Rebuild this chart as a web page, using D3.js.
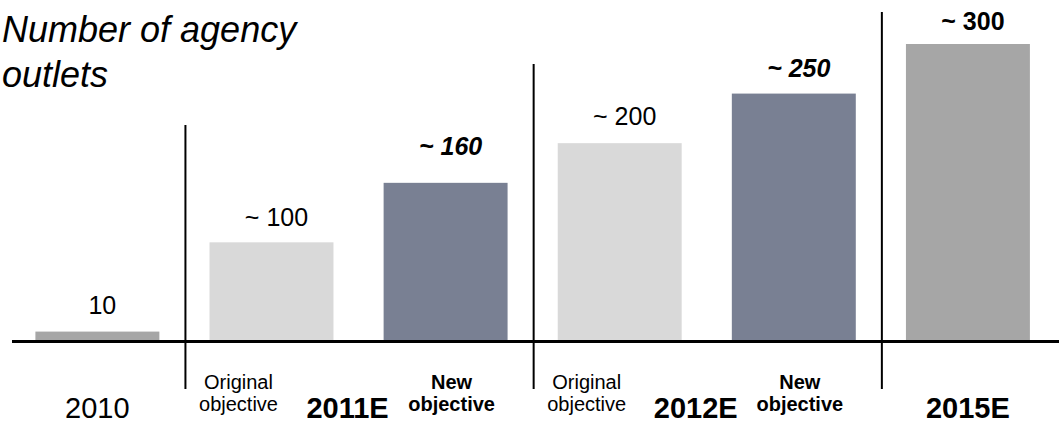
<!DOCTYPE html>
<html>
<head>
<meta charset="utf-8">
<script src="https://cdn.jsdelivr.net/npm/d3@7/dist/d3.min.js"></script>
<style>
  html, body { margin: 0; padding: 0; background: #ffffff; }
  svg { display: block; font-family: "Liberation Sans", Arial, sans-serif; }
</style>
</head>
<body>
<svg id="chart" width="1059" height="425"></svg>
<script>
// ---- data ----
const categories = ["2010", "2011E Original", "2011E New", "2012E Original", "2012E New", "2015E"];
const values = [10, 100, 160, 200, 250, 300];
const valueLabels = ["10", "~ 100", "~ 160", "~ 200", "~ 250", "~ 300"];
const barKinds = ["actual", "original", "new", "original", "new", "actual"];
const yearLabels = ["2010", "2011E", "2012E", "2015E"];
const yearMembers = [[0], [1, 2], [3, 4], [5]];
const subLabelLines = { original: ["Original", "objective"], new: ["New", "objective"] };
const titleLines = ["Number of agency", "outlets"];

// ---- styles / layout ----
const W = 1059, H = 425;
const colors = { actual: "#a6a6a6", original: "#d9d9d9", new: "#798093" };
const labelStyle = {
  actual: { weight: "normal", italic: false },
  original: { weight: "normal", italic: false },
  new: { weight: "bold", italic: true }
};
const labelGap = [18, 16, 28, 18, 17, 14];
const sepTops = [125, 64, 12];

const svg = d3.select("#chart");

const x = d3.scaleBand()
  .domain(categories)
  .range([35.4, 1029.9])
  .paddingInner(0.288)
  .paddingOuter(0);

const y = d3.scaleLinear().domain([0, 300]).range([341.5, 44]);

// bars
svg.append("g").selectAll("rect")
  .data(values)
  .join("rect")
  .attr("x", (d, i) => x(categories[i]))
  .attr("width", x.bandwidth())
  .attr("y", d => y(d))
  .attr("height", d => y(0) - y(d))
  .attr("fill", (d, i) => colors[barKinds[i]]);

// value labels
svg.append("g").selectAll("text")
  .data(values)
  .join("text")
  .attr("x", (d, i) => x(categories[i]) + x.bandwidth() / 2 + 5)
  .attr("y", (d, i) => y(d) - labelGap[i])
  .attr("text-anchor", "middle")
  .attr("font-size", 25)
  .attr("font-weight", (d, i) => (i === 5 ? "bold" : labelStyle[barKinds[i]].weight))
  .attr("font-style", (d, i) => (labelStyle[barKinds[i]].italic ? "italic" : "normal"))
  .attr("fill", "#000")
  .text((d, i) => valueLabels[i]);

// baseline axis
const axis = d3.axisBottom(x).tickSize(0).tickFormat("");
svg.append("g")
  .attr("transform", `translate(0,${y(0)})`)
  .call(axis)
  .call(g => g.select(".domain").remove())
  .append("line")
  .attr("x1", 12).attr("x2", W)
  .attr("y1", 0).attr("y2", 0)
  .attr("stroke", "#000").attr("stroke-width", 3);

// separators between year groups
const sepIdx = [1, 3, 5];
const gap = x.step() - x.bandwidth();
svg.append("g").selectAll("line")
  .data(sepIdx)
  .join("line")
  .attr("x1", d => x(categories[d]) - gap / 2 + 1)
  .attr("x2", d => x(categories[d]) - gap / 2 + 1)
  .attr("y1", (d, i) => sepTops[i])
  .attr("y2", 389)
  .attr("stroke", "#000")
  .attr("stroke-width", 2);

// year labels
const center = i => x(categories[i]) + x.bandwidth() / 2;
svg.append("g").selectAll("text")
  .data(yearLabels)
  .join("text")
  .attr("x", (d, i) => {
    const m = d3.mean(yearMembers[i], center);
    return yearMembers[i].length > 1 ? m - 11 : m;
  })
  .attr("y", 418)
  .attr("text-anchor", "middle")
  .attr("font-size", 29)
  .attr("font-weight", (d, i) => (i === 0 ? "normal" : "bold"))
  .attr("fill", "#000")
  .text(d => d);

// sub labels (Original objective / New objective)
const subIdx = barKinds.map((k, i) => i).filter(i => barKinds[i] !== "actual");
const subG = svg.append("g");
subIdx.forEach(i => {
  const kind = barKinds[i];
  const cx = kind === "original" ? center(i) - 33 : center(i) + 6;
  const t = subG.append("text")
    .attr("text-anchor", "middle")
    .attr("font-size", 20)
    .attr("font-weight", kind === "new" ? "bold" : "normal")
    .attr("fill", "#000");
  subLabelLines[kind].forEach((line, j) => {
    t.append("tspan").attr("x", cx).attr("y", j === 0 ? 389 : 411).text(line);
  });
});

// title
const title = svg.append("text")
  .attr("font-size", 36)
  .attr("font-style", "italic")
  .attr("fill", "#000");
titleLines.forEach((line, j) => {
  title.append("tspan").attr("x", 2).attr("y", j === 0 ? 42 : 87).text(line);
});
</script>
</body>
</html>
